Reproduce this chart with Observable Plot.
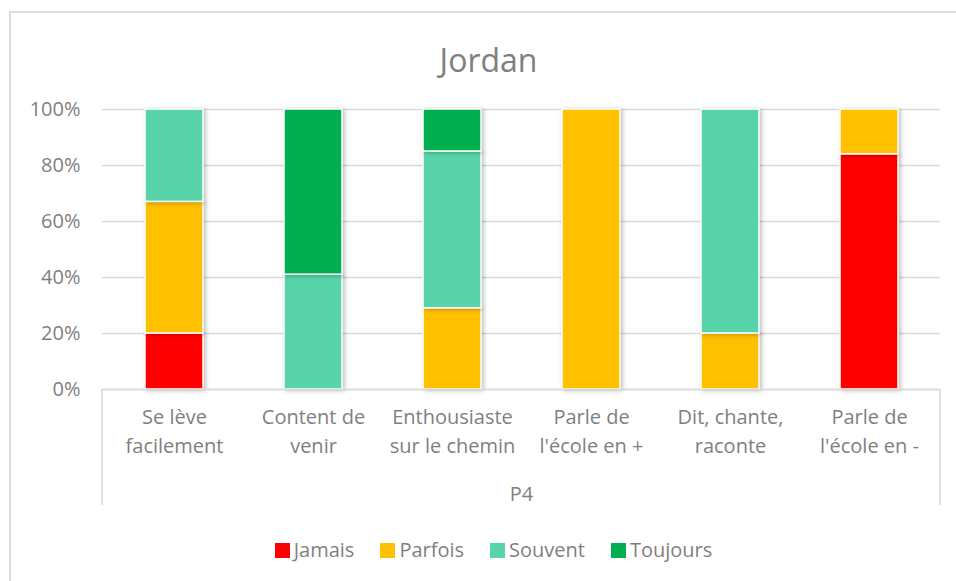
<!DOCTYPE html>
<html>
<head>
<meta charset="utf-8">
<script src="https://cdn.jsdelivr.net/npm/d3@7"></script>
<script src="https://cdn.jsdelivr.net/npm/@observablehq/plot@0.6"></script>
<style>
  html, body { margin: 0; padding: 0; background: #fff; }
  #chart { position: relative; width: 956px; height: 581px; overflow: hidden; font-family: "Open Sans", sans-serif; color: #7f7f7f; }
  #border { position: absolute; z-index: 5; pointer-events: none; left: 9px; top: 11px; right: -5px; bottom: -5px; border-left: 2px solid #dcdcdc; border-top: 2px solid #dcdcdc; }
  #title { position: absolute; left: 21px; width: 935px; top: 44px; text-align: center; font-size: 32px; line-height: 32px; color: #7f7f7f; }
  #plot { position: absolute; left: 0; top: 90px; }
  #legend { position: absolute; top: 540px; left: 31px; width: 925px; display: flex; justify-content: center; font-size: 20px; line-height: 20px; color: #7f7f7f; }
  .item { display: flex; align-items: center; margin: 0 13px; }
  .sw { width: 15px; height: 15px; margin-right: 4px; }
</style>
</head>
<body>
<div id="chart">
  <div id="title">Jordan</div>
  <div id="plot"></div>
  <div id="legend"></div>
  <div id="border"></div>
</div>
<script>
const categories = [
  "Se lève\nfacilement",
  "Content de\nvenir",
  "Enthousiaste\nsur le chemin",
  "Parle de\nl'école en +",
  "Dit, chante,\nraconte",
  "Parle de\nl'école en -"
];
const seriesNames = ["Jamais", "Parfois", "Souvent", "Toujours"];
const seriesColors = ["#ff0000", "#ffc000", "#58d3aa", "#00b050"];
const jamais   = [20,  0,  0,   0,  0, 84];
const parfois  = [47,  0, 29, 100, 20, 16];
const souvent  = [33, 41, 56,   0, 80,  0];
const toujours = [ 0, 59, 15,   0,  0,  0];
const yTicks = [0, 0.2, 0.4, 0.6, 0.8, 1];
const groupLabel = "P4";

const seriesValues = [jamais, parfois, souvent, toujours];
const data = [];
seriesNames.forEach((s, si) => {
  categories.forEach((c, ci) => {
    data.push({cat: c, series: s, value: seriesValues[si][ci] / 100});
  });
});

const plot = Plot.plot({
  width: 956,
  height: 425,
  marginLeft: 102,
  marginRight: 16,
  marginTop: 19,
  marginBottom: 126,
  style: {fontFamily: "'Open Sans', sans-serif", fontSize: "20px", color: "#7f7f7f", background: "transparent", overflow: "visible"},
  x: {domain: categories, paddingInner: 0.585, paddingOuter: 0.2925},
  y: {domain: [0, 1]},
  color: {domain: seriesNames, range: seriesColors},
  marks: [
    Plot.gridY(yTicks, {stroke: "#d9d9d9", strokeOpacity: 1, strokeWidth: 1.5}),
    Plot.axisY(yTicks, {tickFormat: d3.format(".0%"), tickSize: 0, tickPadding: 22, fontSize: 20, fill: "#7f7f7f", label: null}),
    Plot.axisX({tickSize: 0, tickPadding: 14, fontSize: 20, fill: "#7f7f7f", lineHeight: 1.45, label: null}),
    Plot.barY(data.filter(d => d.value > 0), {x: "cat", y: "value", fill: "series", stroke: "white", strokeWidth: 1.5}),
    Plot.ruleY([0], {stroke: "#d9d9d9", strokeWidth: 1.5}),
    Plot.text([groupLabel], {text: d => d, frameAnchor: "bottom", dy: 111, fontSize: 20, fill: "#7f7f7f"})
  ]
});

// multi-level category separators (vertical lines at the band extent)
const xs = plot.scale("x");
const svg = d3.select(plot.tagName === "svg" ? plot : plot.querySelector("svg"));
const y0 = 425 - 126;
[xs.range[0], xs.range[1]].forEach(xv => {
  svg.append("line").attr("x1", xv).attr("x2", xv).attr("y1", y0).attr("y2", y0 + 116)
    .attr("stroke", "#d9d9d9").attr("stroke-width", 1.5);
});
svg.selectAll("g[aria-label='bar'] rect").style("filter", "drop-shadow(2px 1px 2px rgba(0,0,0,0.25))");

document.getElementById("plot").appendChild(plot);

const legend = document.getElementById("legend");
seriesNames.forEach((s, i) => {
  const item = document.createElement("div");
  item.className = "item";
  const sw = document.createElement("div");
  sw.className = "sw";
  sw.style.background = seriesColors[i];
  const t = document.createElement("span");
  t.textContent = s;
  item.appendChild(sw);
  item.appendChild(t);
  legend.appendChild(item);
});
</script>
</body>
</html>
